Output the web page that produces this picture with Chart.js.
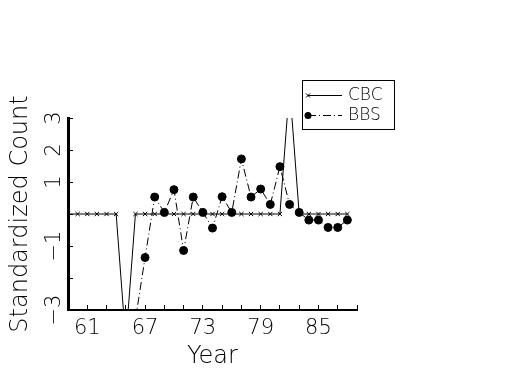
<!DOCTYPE html>
<html>
<head>
<meta charset="utf-8">
<script src="https://cdn.jsdelivr.net/npm/chart.js@4.4.1/dist/chart.umd.min.js"></script>
<style>
  body { margin: 0; background: #fff; }
  canvas { display: block; }
</style>
</head>
<body>
<canvas id="myChart" width="525" height="375"></canvas>
<script>
// data
const cbcYears = [59, 60, 61, 62, 63, 64, 65, 66, 67, 68, 69, 70, 71, 72, 73, 74,
    75, 76, 77, 78, 79, 80, 81, 82, 83, 84, 85, 86, 87, 88];
const cbcValues = [0, 0, 0, 0, 0, 0, -4, 0, 0, 0, 0, 0, 0, 0, 0, 0,
    0, 0, 0, 0, 0, 0, 0, 4, 0, 0, 0, 0, 0, 0];
const bbsYears = [66, 67, 68, 69, 70, 71, 72, 73, 74, 75, 76, 77, 78, 79, 80, 81,
    82, 83, 84, 85, 86, 87, 88];
const bbsValues = [-3.3, -1.36, 0.53, 0.05, 0.76, -1.14, 0.53, 0.05, -0.44, 0.54, 0.05, 1.72,
    0.53, 0.78, 0.30, 1.48, 0.30, 0.05, -0.19, -0.19, -0.42, -0.42, -0.19];
const xTickLabels = [61, 67, 73, 79, 85];
const yTickLabels = [3, 2, 1, -1, -3];

const seriesNames = ["CBC", "BBS"];

function toPoints(xs, ys) {
    return xs.map(function (x, i) { return { x: x, y: ys[i] }; });
}

function minusSign(v) {
    return v < 0 ? "\u2212" + Math.abs(v) : String(v);
}

Chart.defaults.font.family = "DejaVu Sans";
Chart.defaults.font.weight = 200;
Chart.defaults.color = "#000";

// legend box drawn by hand, the library one can't sit over the axis like that
const boxLegend = {
    id: "boxLegend",
    afterDraw: function (chart) {
        const ctx = chart.ctx;
        const sets = chart.data.datasets;
        ctx.save();
        ctx.strokeStyle = "#000";
        ctx.lineWidth = 1;
        ctx.strokeRect(302.5, 80.5, 92, 49);

        ctx.font = "200 17px 'DejaVu Sans'";
        ctx.textBaseline = "middle";
        ctx.fillStyle = "#000";

        // CBC
        let y = 95.5;
        ctx.beginPath();
        ctx.setLineDash([]);
        ctx.moveTo(308, y);
        ctx.lineTo(342, y);
        ctx.stroke();
        ctx.beginPath();
        ctx.moveTo(306, y - 2); ctx.lineTo(310, y + 2);
        ctx.moveTo(306, y + 2); ctx.lineTo(310, y - 2);
        ctx.stroke();
        ctx.fillText(sets[0].label, 348, y);

        // BBS
        y = 115.5;
        ctx.beginPath();
        ctx.setLineDash(sets[1].borderDash);
        ctx.moveTo(308, y);
        ctx.lineTo(342, y);
        ctx.stroke();
        ctx.setLineDash([]);
        ctx.beginPath();
        ctx.arc(308, y, 3.5, 0, Math.PI * 2);
        ctx.fill();
        ctx.fillText(sets[1].label, 348, y);
        ctx.restore();
    }
};

const ctx = document.getElementById("myChart").getContext("2d");

const myChart = new Chart(ctx, {
    type: "line",
    data: {
        datasets: [{
            label: seriesNames[0],
            data: toPoints(cbcYears, cbcValues),
            borderColor: "#000",
            borderWidth: 1,
            pointStyle: "crossRot",
            pointRadius: 3,
            pointBorderWidth: 1,
            pointBorderColor: "#000",
            tension: 0,
            clip: 0
        }, {
            label: seriesNames[1],
            data: toPoints(bbsYears, bbsValues),
            borderColor: "#000",
            borderWidth: 1,
            borderDash: [8, 3, 1, 3],
            pointStyle: "circle",
            pointRadius: 4,
            pointBackgroundColor: "#000",
            pointBorderColor: "#000",
            tension: 0,
            clip: 0
        }]
    },
    options: {
        responsive: false,
        animation: false,
        layout: { padding: { left: 0, top: 118, right: 168, bottom: 0 } },
        plugins: {
            legend: { display: false },
            tooltip: { enabled: false }
        },
        scales: {
            x: {
                type: "linear",
                min: 59,
                max: 89,
                afterFit: function (scale) { scale.height = 65; },
                ticks: {
                    stepSize: 2,
                    autoSkip: false,
                    maxRotation: 0,
                    padding: 11,
                    font: { size: 21 },
                    callback: function (v) {
                        return xTickLabels.indexOf(v) >= 0 ? String(v) : "";
                    }
                },
                grid: { drawOnChartArea: false, drawTicks: true, tickLength: -5, color: "#000" },
                border: { color: "#000", width: 2 },
                title: {
                    display: true,
                    text: "Year",
                    font: { size: 24 },
                    padding: { top: 0, bottom: 4 }
                }
            },
            y: {
                min: -3,
                max: 3,
                afterFit: function (scale) { scale.width = 68; },
                ticks: {
                    stepSize: 1,
                    autoSkip: false,
                    minRotation: 90,
                    maxRotation: 90,
                    crossAlign: "center",
                    padding: 3,
                    font: { size: 21 },
                    callback: function (v) {
                        return yTickLabels.indexOf(v) >= 0 ? minusSign(v) : "";
                    }
                },
                grid: { drawOnChartArea: false, drawTicks: true, tickLength: -5, color: "#000" },
                border: { color: "#000", width: 3 },
                title: {
                    display: true,
                    text: "Standardized Count",
                    font: { size: 24 },
                    padding: { top: 6, bottom: 0 }
                }
            }
        }
    },
    plugins: [boxLegend]
});
</script>
</body>
</html>
